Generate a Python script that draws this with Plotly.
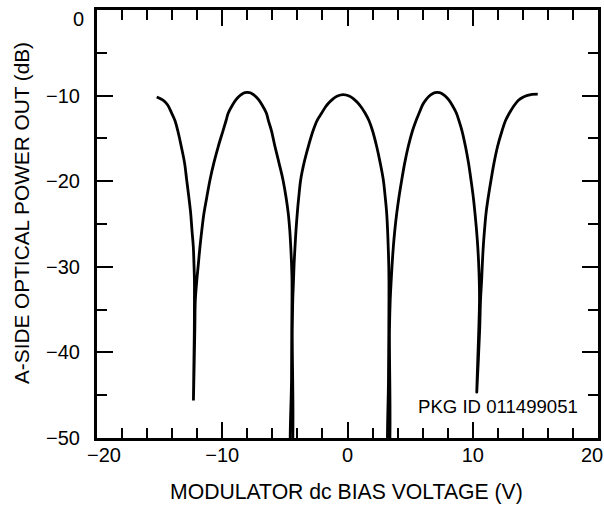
import plotly.graph_objects as go

bias_v = [
    # start -> first null
    -15.23, -14.73, -14.37, -14.04, -13.77, -13.55, -13.27, -13.01, -12.84, -12.67,
    -12.52, -12.42, -12.31, -12.26, -12.22, -12.22, -12.23, -12.26, -12.30,
    # first null -> first peak
    -12.19, -12.15, -12.03, -11.90, -11.78, -11.63, -11.46, -11.23, -10.98, -10.67,
    -10.32, -9.94, -9.70, -9.52, -9.17, -8.90, -8.65, -8.38, -8.18, -8.00,
    # first peak -> second null
    -7.82, -7.62, -7.35, -7.10, -6.83, -6.48, -6.31, -6.07, -5.79, -5.47, -5.15,
    -4.91, -4.73, -4.61, -4.53, -4.47, -4.43, -4.43, -4.45, -4.47, -4.52,
    # second null -> second peak
    -4.46, -4.41, -4.37, -4.31, -4.26, -4.19, -4.11, -4.01, -3.89, -3.74,
    -3.47, -3.13, -2.75, -2.44, -2.06, -1.76, -1.43, -1.13, -0.80, -0.56, -0.34,
    # second peak -> third null
    -0.11, 0.13, 0.46, 0.76, 1.09, 1.40, 1.72, 2.00, 2.33, 2.61, 2.86,
    3.01, 3.13, 3.20, 3.25, 3.29, 3.31, 3.31, 3.30, 3.27, 3.25,
    # third null -> third peak
    3.30, 3.35, 3.41, 3.49, 3.57, 3.66, 3.78, 3.93, 4.11, 4.33,
    4.57, 4.85, 5.19, 5.47, 5.72, 6.00, 6.27, 6.51, 6.79, 6.99, 7.17,
    # third peak -> fourth null
    7.35, 7.55, 7.82, 8.07, 8.34, 8.69, 8.90, 9.14, 9.42, 9.66, 9.86,
    10.04, 10.18, 10.30, 10.40, 10.47, 10.52, 10.54, 10.48, 10.40, 10.32,
    # fourth null -> end
    10.55, 10.62, 10.71, 10.77, 10.84, 10.94, 11.06, 11.24, 11.46, 11.70,
    11.98, 12.34, 12.61, 12.93, 13.29, 13.65, 14.01, 14.37, 14.73, 15.19,
]
power_db = [
    -10.16, -10.54, -11.07, -12.04, -12.94, -14.11, -15.95, -17.86, -19.85, -21.84,
    -23.75, -25.70, -27.66, -29.57, -31.56, -33.90, -37.41, -40.93, -45.61,
    -37.41, -33.90, -31.56, -29.57, -27.66, -25.70, -23.75, -21.84, -19.85, -17.86,
    -15.95, -14.11, -12.94, -12.04, -11.07, -10.48, -10.07, -9.78, -9.66, -9.63,
    -9.66, -9.78, -10.07, -10.48, -11.07, -12.04, -12.94, -14.11, -15.95, -17.86, -19.85,
    -21.84, -23.75, -25.70, -27.66, -29.57, -31.56, -33.90, -37.41, -43.27, -52.63,
    -52.63, -37.41, -33.90, -31.56, -29.57, -27.66, -25.70, -23.75, -21.84, -19.85,
    -17.86, -15.95, -14.11, -12.94, -12.04, -11.33, -10.75, -10.34, -10.05, -9.93, -9.89,
    -9.93, -10.05, -10.34, -10.75, -11.33, -12.04, -12.94, -14.11, -15.95, -17.86, -19.85,
    -21.84, -23.75, -25.70, -27.66, -29.57, -31.56, -33.90, -37.41, -43.27, -52.63,
    -52.63, -37.41, -33.90, -31.56, -29.57, -27.66, -25.70, -23.75, -21.84, -19.85,
    -17.86, -15.95, -14.11, -12.94, -12.04, -11.07, -10.48, -10.07, -9.78, -9.66, -9.63,
    -9.66, -9.78, -10.07, -10.48, -11.07, -12.04, -12.94, -14.11, -15.95, -17.86, -19.85,
    -21.84, -23.75, -25.70, -27.66, -29.57, -31.56, -33.90, -37.41, -40.93, -44.64,
    -37.41, -33.90, -31.56, -29.57, -27.66, -25.70, -23.75, -21.84, -19.85, -17.86,
    -15.95, -14.11, -12.94, -12.04, -11.18, -10.54, -10.19, -9.98, -9.86, -9.83,
]

x_range = [-20, 20]
y_range = [-50, 0]
x_tick_vals = [-20, -10, 0, 10, 20]
x_tick_text = ["", "\u221210", "0", "10", ""]      # end labels drawn separately (inset)
y_tick_vals = [-50, -40, -30, -20, -10, 0]
y_tick_text = ["\u221250", "\u221240", "\u221230", "\u221220", "\u221210", ""]
x_end_labels = ["\u221220", "20"]
y_end_label = "0"
x_title = "MODULATOR dc BIAS VOLTAGE (V)"
y_title = "A-SIDE OPTICAL POWER OUT (dB)"
note_text = "PKG ID 011499051"

font_family = "Liberation Sans, Arial, Helvetica, sans-serif"
W, H = 604, 508
ML, MR, MT, MB = 97, 6, 10, 70
PW, PH = W - ML - MR, H - MT - MB


def px_x(p):  # page pixel -> paper x
    return (p - ML) / PW


def px_y(p):  # page pixel -> paper y
    return (H - MB - p) / PH


fig = go.Figure()
fig.add_trace(go.Scatter(
    x=bias_v, y=power_db, mode="lines",
    line=dict(color="black", width=2.8, shape="spline", smoothing=1.0),
    hoverinfo="skip", showlegend=False,
))

axis_common = dict(
    showline=True, linecolor="black", linewidth=3, mirror="ticks",
    ticks="inside", ticklen=16, tickwidth=1.5, tickcolor="black",
    showgrid=False, zeroline=False, automargin=False,
    tickfont=dict(family=font_family, size=20, color="black"),
)

fig.update_xaxes(
    range=x_range, tickmode="array", tickvals=x_tick_vals, ticktext=x_tick_text,
    minor=dict(dtick=2, tick0=0, ticks="inside", ticklen=10, tickwidth=1.5,
               tickcolor="black", showgrid=False),
    ticklabelstandoff=-3,
    **axis_common,
)
fig.update_yaxes(
    range=y_range, tickmode="array", tickvals=y_tick_vals, ticktext=y_tick_text,
    minor=dict(dtick=5, tick0=0, ticks="inside", ticklen=10, tickwidth=1.5,
               tickcolor="black", showgrid=False),
    ticklabelstandoff=10,
    **axis_common,
)

tick_font = dict(family=font_family, size=20, color="black")
fig.add_annotation(text=x_end_labels[0], xref="paper", yref="paper",
                   x=px_x(104), y=px_y(455), xanchor="center", yanchor="middle",
                   showarrow=False, font=tick_font)
fig.add_annotation(text=x_end_labels[1], xref="paper", yref="paper",
                   x=px_x(592), y=px_y(455), xanchor="center", yanchor="middle",
                   showarrow=False, font=tick_font)
fig.add_annotation(text=y_end_label, xref="paper", yref="paper",
                   x=px_x(86), y=px_y(19), xanchor="right", yanchor="middle",
                   showarrow=False, font=tick_font)

fig.add_annotation(
    text=x_title, xref="paper", yref="paper", x=px_x(346), y=px_y(492),
    xanchor="center", yanchor="middle", showarrow=False,
    font=dict(family=font_family, size=21.2, color="black"),
)
fig.add_annotation(
    text=y_title, xref="paper", yref="paper", x=px_x(21), y=px_y(213),
    xanchor="center", yanchor="middle", showarrow=False, textangle=-90,
    font=dict(family=font_family, size=20.8, color="black"),
)
fig.add_annotation(
    text=note_text, xref="x", yref="y", x=18.55, y=-46.3,
    xanchor="right", yanchor="middle", showarrow=False,
    font=dict(family=font_family, size=18.6, color="black"),
)

fig.update_layout(
    width=W, height=H,
    margin=dict(l=ML, r=MR, t=MT, b=MB),
    plot_bgcolor="white", paper_bgcolor="white",
)

fig.write_html("out.html", config={"displayModeBar": False},
               post_script="document.body.style.margin='0';")
